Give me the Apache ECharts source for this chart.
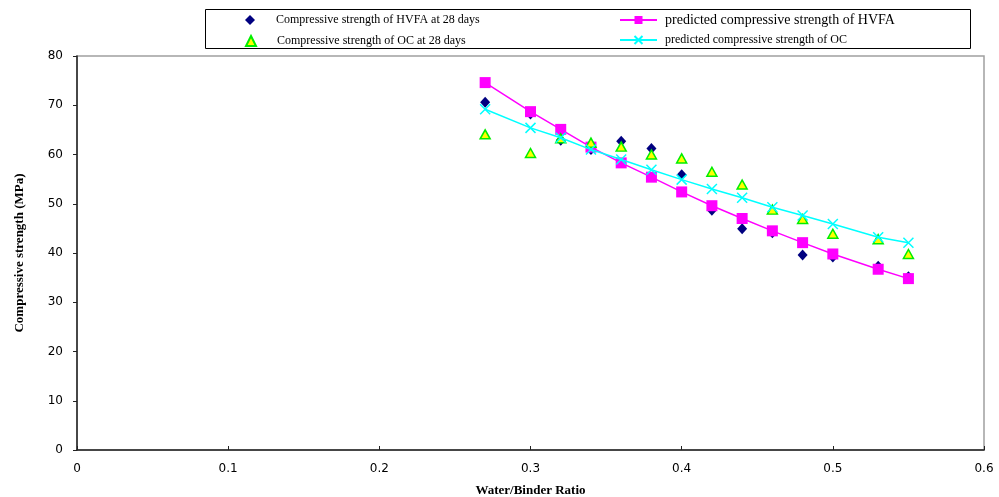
<!DOCTYPE html>
<html>
<head>
<meta charset="utf-8">
<script src="https://cdn.jsdelivr.net/npm/echarts@6/dist/echarts.min.js"></script>
<style>
  html, body { margin: 0; padding: 0; background: #fff; }
  #chart { width: 999px; height: 497px; }
</style>
</head>
<body>
<div id="chart"></div>
<script>
// water/binder ratios
const ratios = [0.27, 0.30, 0.32, 0.34, 0.36, 0.38, 0.40, 0.42, 0.44, 0.46, 0.48, 0.50, 0.53, 0.55]
// measured / predicted strengths (MPa)
const hvfaMeasured = [70.6, 68.2, 62.9, 61.0, 62.7, 61.2, 55.9, 48.7, 44.9, 44.1, 39.6, 39.2, 37.3, 35.2]
const hvfaPredicted = [74.6, 68.7, 65.1, 61.5, 58.3, 55.4, 52.4, 49.6, 47.0, 44.5, 42.1, 39.8, 36.7, 34.8]
const ocMeasured = [64.1, 60.3, 63.3, 62.4, 61.6, 60.0, 59.2, 56.5, 53.9, 48.8, 46.9, 43.9, 42.8, 39.8]
const ocPredicted = [69.2, 65.4, 63.4, 61.0, 59.0, 56.9, 54.9, 53.0, 51.2, 49.3, 47.6, 45.9, 43.2, 42.1]

const names = [
  'Compressive strength of HVFA at 28 days',
  'predicted compressive strength of HVFA',
  'Compressive strength of OC at 28 days',
  'predicted compressive strength of OC'
]

const pairs = (ys) => ratios.map((x, i) => [x, ys[i]])
const crossPath = 'path://M0,0L10,10M10,0L0,10'
const serif = '"Liberation Serif", "DejaVu Serif", serif'
const sans = '"DejaVu Sans", Verdana, sans-serif'

const chart = echarts.init(document.getElementById('chart'))

function legendItem(name, left, top, opts) {
  return Object.assign({
    data: [name],
    left: left,
    top: top,
    orient: 'horizontal',
    padding: 0,
    selectedMode: false,
    textStyle: { fontFamily: serif, fontSize: 12, color: '#000' }
  }, opts)
}

chart.setOption({
  animation: false,
  grid: {
    left: 77,
    right: 15,
    top: 56,
    bottom: 47,
    outerBoundsMode: 'none',
    show: true,
    borderColor: '#a0a0a0',
    borderWidth: 1.5
  },
  graphic: [{
    type: 'rect',
    shape: { x: 205.5, y: 9.5, width: 765, height: 39 },
    style: { fill: 'none', stroke: '#000', lineWidth: 1 },
    z: 0
  }],
  legend: [
    legendItem(names[0], 245, 14, { itemWidth: 10, itemHeight: 10, itemGap: 0, textStyle: { fontFamily: serif, fontSize: 12, color: '#000', padding: [0, 0, 0, 16] } }),
    legendItem(names[2], 245, 35, { itemWidth: 10, itemHeight: 10, itemGap: 0, textStyle: { fontFamily: serif, fontSize: 12, color: '#000', padding: [0, 0, 0, 16] } }),
    legendItem(names[1], 619, 13, { itemWidth: 37, itemHeight: 10, textStyle: { fontFamily: serif, fontSize: 14, color: '#000', padding: [0, 0, 0, 3] } }),
    legendItem(names[3], 619, 34, { itemWidth: 37, itemHeight: 10, textStyle: { fontFamily: serif, fontSize: 12, color: '#000', padding: [0, 0, 0, 3] } })
  ],
  xAxis: {
    type: 'value',
    min: 0,
    max: 0.6,
    interval: 0.1,
    name: 'Water/Binder Ratio',
    nameLocation: 'middle',
    nameGap: 34,
    nameTextStyle: { fontFamily: serif, fontSize: 13, fontWeight: 'bold', color: '#000' },
    axisLine: { lineStyle: { color: '#222', width: 1.5 } },
    axisTick: { inside: true, length: 4, lineStyle: { color: '#222' } },
    axisLabel: { fontFamily: sans, fontSize: 12, color: '#000', margin: 13 },
    splitLine: { show: false }
  },
  yAxis: {
    type: 'value',
    min: 0,
    max: 80,
    interval: 10,
    name: 'Compressive strength (MPa)',
    nameLocation: 'middle',
    nameGap: 51,
    nameTextStyle: { fontFamily: serif, fontSize: 13, fontWeight: 'bold', color: '#000' },
    axisLine: { lineStyle: { color: '#222', width: 1.5 } },
    axisTick: { length: 4, lineStyle: { color: '#222' } },
    axisLabel: { fontFamily: sans, fontSize: 12, color: '#000', margin: 14 },
    splitLine: { show: false }
  },
  series: [
    {
      name: names[0],
      type: 'scatter',
      data: pairs(hvfaMeasured),
      symbol: 'diamond',
      symbolSize: [10, 11],
      itemStyle: { color: '#000080', opacity: 1 },
      z: 2
    },
    {
      name: names[1],
      type: 'line',
      data: pairs(hvfaPredicted),
      symbol: 'rect',
      symbolSize: 11,
      showAllSymbol: true,
      lineStyle: { color: '#ff00ff', width: 1.5 },
      itemStyle: { color: '#ff00ff' },
      z: 3
    },
    {
      name: names[2],
      type: 'scatter',
      data: pairs(ocMeasured),
      symbol: 'triangle',
      symbolSize: [10, 9],
      itemStyle: { color: '#ffff00', borderColor: '#00ee00', borderWidth: 1.5, opacity: 1 },
      z: 4
    },
    {
      name: names[3],
      type: 'line',
      data: pairs(ocPredicted),
      symbol: crossPath,
      symbolSize: 10,
      showAllSymbol: true,
      lineStyle: { color: '#00ffff', width: 1.5 },
      itemStyle: { color: '#00ffff', borderColor: '#00ffff', borderWidth: 1.5 },
      z: 5
    }
  ]
})
</script>
</body>
</html>
